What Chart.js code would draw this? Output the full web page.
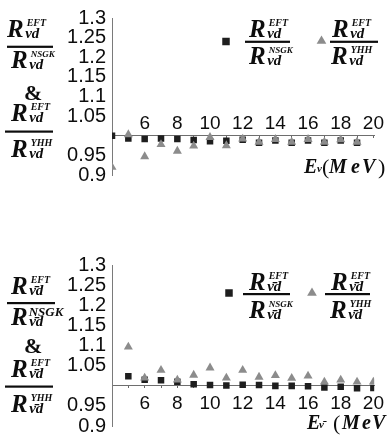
<!DOCTYPE html>
<html><head><meta charset="utf-8">
<script src="https://cdn.jsdelivr.net/npm/chart.js@4/dist/chart.umd.min.js"></script>
<style>
html,body{margin:0;padding:0;background:#fff;}
#wrap{position:relative;width:388px;height:445px;overflow:hidden;}
canvas{position:absolute;left:0;}
</style></head><body>
<div id="wrap">
<canvas id="topChart" width="388" height="222" style="top:0"></canvas>
<canvas id="botChart" width="388" height="223" style="top:222px"></canvas>
</div>
<script>
// ---- data ----
const energiesNu      = [4, 5, 6, 7, 8, 9, 10, 11, 12, 13, 14, 15, 16, 17, 18, 19];
const ratioNsgkNu     = [1.000, 0.993, 0.992, 0.993, 0.992, 0.989, 0.986, 0.987, 0.990, 0.982, 0.988, 0.982, 0.988, 0.982, 0.988, 0.982];
const ratioYhhNu      = [0.920, 1.003, 0.947, 0.978, 0.961, 0.974, 0.996, 0.975, 0.992, 0.984, 0.991, 0.984, 0.991, 0.984, 0.990, 0.984];

const energiesNuBar   = [5, 6, 7, 8, 9, 10, 11, 12, 13, 14, 15, 16, 17, 18, 19, 20];
const ratioNsgkNuBar  = [1.024, 1.015, 1.014, 1.010, 1.004, 1.002, 1.001, 1.003, 1.002, 1.000, 1.000, 0.999, 0.996, 0.998, 0.994, 0.995];
const ratioYhhNuBar   = [1.097, 1.020, 1.039, 1.015, 1.027, 1.045, 1.020, 1.039, 1.022, 1.026, 1.019, 1.025, 1.010, 1.015, 1.010, 1.010];

const xTickMarks  = [4, 5, 6, 7, 8, 9, 10, 11, 12, 13, 14, 15, 16, 17, 18, 19, 20];
const xTickLabels = [6, 8, 10, 12, 14, 16, 18, 20];
const yTickValues = [0.9, 0.95, 1, 1.05, 1.1, 1.15, 1.2, 1.25, 1.3];

// ---- styling helpers ----
const SERIF = '"Liberation Serif","DejaVu Serif",serif';
const SANS  = '"Liberation Sans",Arial,sans-serif';
const SQ_COLOR = '#1e1e1e', TRI_COLOR = '#8c8c8c', TXT = '#0d0d0d';
function bi(s){ return 'italic bold ' + s + 'px ' + SERIF; }

function tensor(ctx, x, base, t){
  ctx.textAlign = 'left'; ctx.textBaseline = 'alphabetic'; ctx.fillStyle = TXT;
  ctx.font = bi(t.r || 25);
  ctx.fillText('R', x, base);
  const rw = ctx.measureText('R').width;
  ctx.font = bi(t.supSize || 10);
  ctx.fillText(t.sup, x + rw + (t.supDx ?? 3), base + (t.supDy ?? -11));
  ctx.font = bi(t.subSize || 15);
  ctx.fillText(t.sub, x + rw + (t.subDx ?? 1.5), base + (t.subDy ?? 1));
}
function frac(ctx, f){
  ctx.fillStyle = TXT;
  ctx.fillRect(f.x0, f.bar - 1, f.x1 - f.x0, 2.2);
  tensor(ctx, f.nx, f.nb, f.num);
  tensor(ctx, f.dx, f.db, f.den);
}
function marker(ctx, style, r, x, y, color){
  ctx.save(); ctx.fillStyle = color; ctx.strokeStyle = color;
  Chart.helpers.drawPoint(ctx, {pointStyle: style, radius: r, rotation: 0, borderWidth: 0}, x, y);
  ctx.restore();
}
function chars(ctx, list, base){
  ctx.textAlign = 'left'; ctx.textBaseline = 'alphabetic'; ctx.fillStyle = TXT;
  list.forEach(c => { ctx.font = c.f; ctx.fillText(c.t, c.x, base + (c.dy || 0)); });
}

function makeChart(id, xs, sq, tri, cfg){
  const decor = {
    id: 'decor_' + id,
    afterDraw(chart){ const ctx = chart.ctx; ctx.save(); cfg.decorate(ctx); ctx.restore(); }
  };
  return new Chart(document.getElementById(id), {
    type: 'scatter',
    data: { datasets: [
      { label: 'NSGK', data: xs.map((x, i) => ({x: x, y: sq[i]})),
        pointStyle: 'rect', pointRadius: 4.6, pointBorderWidth: 0,
        backgroundColor: SQ_COLOR, borderColor: SQ_COLOR, showLine: false, clip: 0, order: 2 },
      { label: 'YHH', data: xs.map((x, i) => ({x: x, y: tri[i]})),
        pointStyle: 'triangle', pointRadius: 5.2, pointBorderWidth: 0,
        backgroundColor: TRI_COLOR, borderColor: TRI_COLOR, showLine: false, clip: 0, order: 1 }
    ]},
    options: {
      responsive: false, animation: false, devicePixelRatio: 1,
      layout: { padding: cfg.padding },
      plugins: { legend: {display: false}, tooltip: {enabled: false}, title: {display: false} },
      scales: {
        x: {
          type: 'linear', min: 4, max: 20.05, position: {y: 1},
          afterBuildTicks: s => { s.ticks = xTickMarks.map(v => ({value: v})); },
          afterFit: s => { s.height = 0; },
          ticks: { autoSkip: false, maxRotation: 0, padding: cfg.xPad,
                   font: {family: SANS, size: 19}, color: TXT,
                   callback: v => xTickLabels.includes(v) ? String(v) : '' },
          grid: { display: true, drawOnChartArea: false, drawTicks: true, tickLength: 2, color: '#666' },
          border: { display: true, color: '#6e6e6e', width: 1 }
        },
        y: {
          type: 'linear', min: 0.9, max: 1.3, position: 'left',
          afterBuildTicks: s => { s.ticks = yTickValues.map(v => ({value: v})); },
          afterFit: s => { s.width = 112; },
          ticks: { autoSkip: false, padding: 6, font: {family: SANS, size: 20}, color: TXT,
                   callback: v => Math.abs(v - 1) < 1e-9 ? '' : String(+v.toFixed(2)) },
          grid: { display: true, drawOnChartArea: false, drawTicks: false },
          border: { display: true, color: '#7a7a7a', width: 1 }
        }
      }
    },
    plugins: [decor]
  });
}

// ---- top panel: neutrino ----
makeChart('topChart', energiesNu, ratioNsgkNu, ratioYhhNu, {
  padding: {left: 0, right: 13.8, top: 14, bottom: 47},
  xPad: -25,
  decorate(ctx){
    const sub = 'νd';
    frac(ctx, {x0: 7, x1: 53, bar: 46.7, nx: 7, nb: 37, dx: 11, db: 68,
      num: {sup: 'EFT', sub: sub}, den: {sup: 'NSGK', sub: sub, supSize: 9}});
    ctx.font = 'bold 22px ' + SERIF; ctx.fillStyle = TXT; ctx.textAlign = 'left';
    ctx.fillText('&', 24, 100);
    frac(ctx, {x0: 5, x1: 53, bar: 131.5, nx: 11, nb: 121, dx: 11, db: 157,
      num: {sup: 'EFT', sub: sub}, den: {sup: 'YHH', sub: sub}});
    // legend
    marker(ctx, 'rect', 5.3, 226, 41.5, SQ_COLOR);
    frac(ctx, {x0: 245, x1: 290, bar: 41.7, nx: 249, nb: 37, dx: 249, db: 64,
      num: {sup: 'EFT', sub: sub}, den: {sup: 'NSGK', sub: sub, supSize: 9}});
    marker(ctx, 'triangle', 5.6, 321.5, 41, TRI_COLOR);
    frac(ctx, {x0: 330, x1: 378, bar: 41.7, nx: 332, nb: 37, dx: 331, db: 64,
      num: {sup: 'EFT', sub: sub}, den: {sup: 'YHH', sub: sub}});
    // x title
    chars(ctx, [
      {t: 'E', x: 304, f: bi(20)},
      {t: 'ν', x: 317, f: bi(11), dy: -1},
      {t: '(', x: 322, f: '22px ' + SERIF, dy: 1},
      {t: 'M', x: 329, f: bi(20)},
      {t: 'e', x: 351, f: bi(20)},
      {t: 'V', x: 362, f: bi(20)},
      {t: ')', x: 378, f: '22px ' + SERIF, dy: 1}
    ], 173);
  }
});

// ---- bottom panel: antineutrino ----
makeChart('botChart', energiesNuBar, ratioNsgkNuBar, ratioYhhNuBar, {
  padding: {left: 0, right: 13.8, top: 43.5, bottom: 19},
  xPad: 4,
  decorate(ctx){
    const sub = 'ν\u0304d';
    frac(ctx, {x0: 7, x1: 55, bar: 81, nx: 11, nb: 72, dx: 11, db: 103,
      num: {sup: 'EFT', sub: sub}, den: {sup: 'NSGK', sub: sub, supSize: 13, supDy: -9, supDx: 1}});
    ctx.font = 'bold 22px ' + SERIF; ctx.fillStyle = TXT; ctx.textAlign = 'left';
    ctx.fillText('&', 24, 131);
    frac(ctx, {x0: 5, x1: 53, bar: 164.5, nx: 11, nb: 155, dx: 11, db: 190,
      num: {sup: 'EFT', sub: sub}, den: {sup: 'YHH', sub: sub}});
    // legend
    marker(ctx, 'rect', 5.3, 229, 71, SQ_COLOR);
    frac(ctx, {x0: 243, x1: 290, bar: 72, nx: 249, nb: 68, dx: 249, db: 96,
      num: {sup: 'EFT', sub: sub}, den: {sup: 'NSGK', sub: sub, supSize: 9}});
    marker(ctx, 'triangle', 5.6, 312, 71, TRI_COLOR);
    frac(ctx, {x0: 325, x1: 370, bar: 72, nx: 331, nb: 68, dx: 330, db: 96,
      num: {sup: 'EFT', sub: sub}, den: {sup: 'YHH', sub: sub}});
    // x title (clipped at the right edge like the reference)
    chars(ctx, [
      {t: 'E', x: 307, f: bi(20)},
      {t: 'ν\u0304', x: 319, f: bi(11), dy: -1},
      {t: '(', x: 333, f: '22px ' + SERIF, dy: 1},
      {t: 'M', x: 342, f: bi(20)},
      {t: 'e', x: 362, f: bi(20)},
      {t: 'V', x: 372, f: bi(20)},
      {t: ')', x: 388, f: '22px ' + SERIF, dy: 1}
    ], 207);
  }
});
</script>
</body></html>
